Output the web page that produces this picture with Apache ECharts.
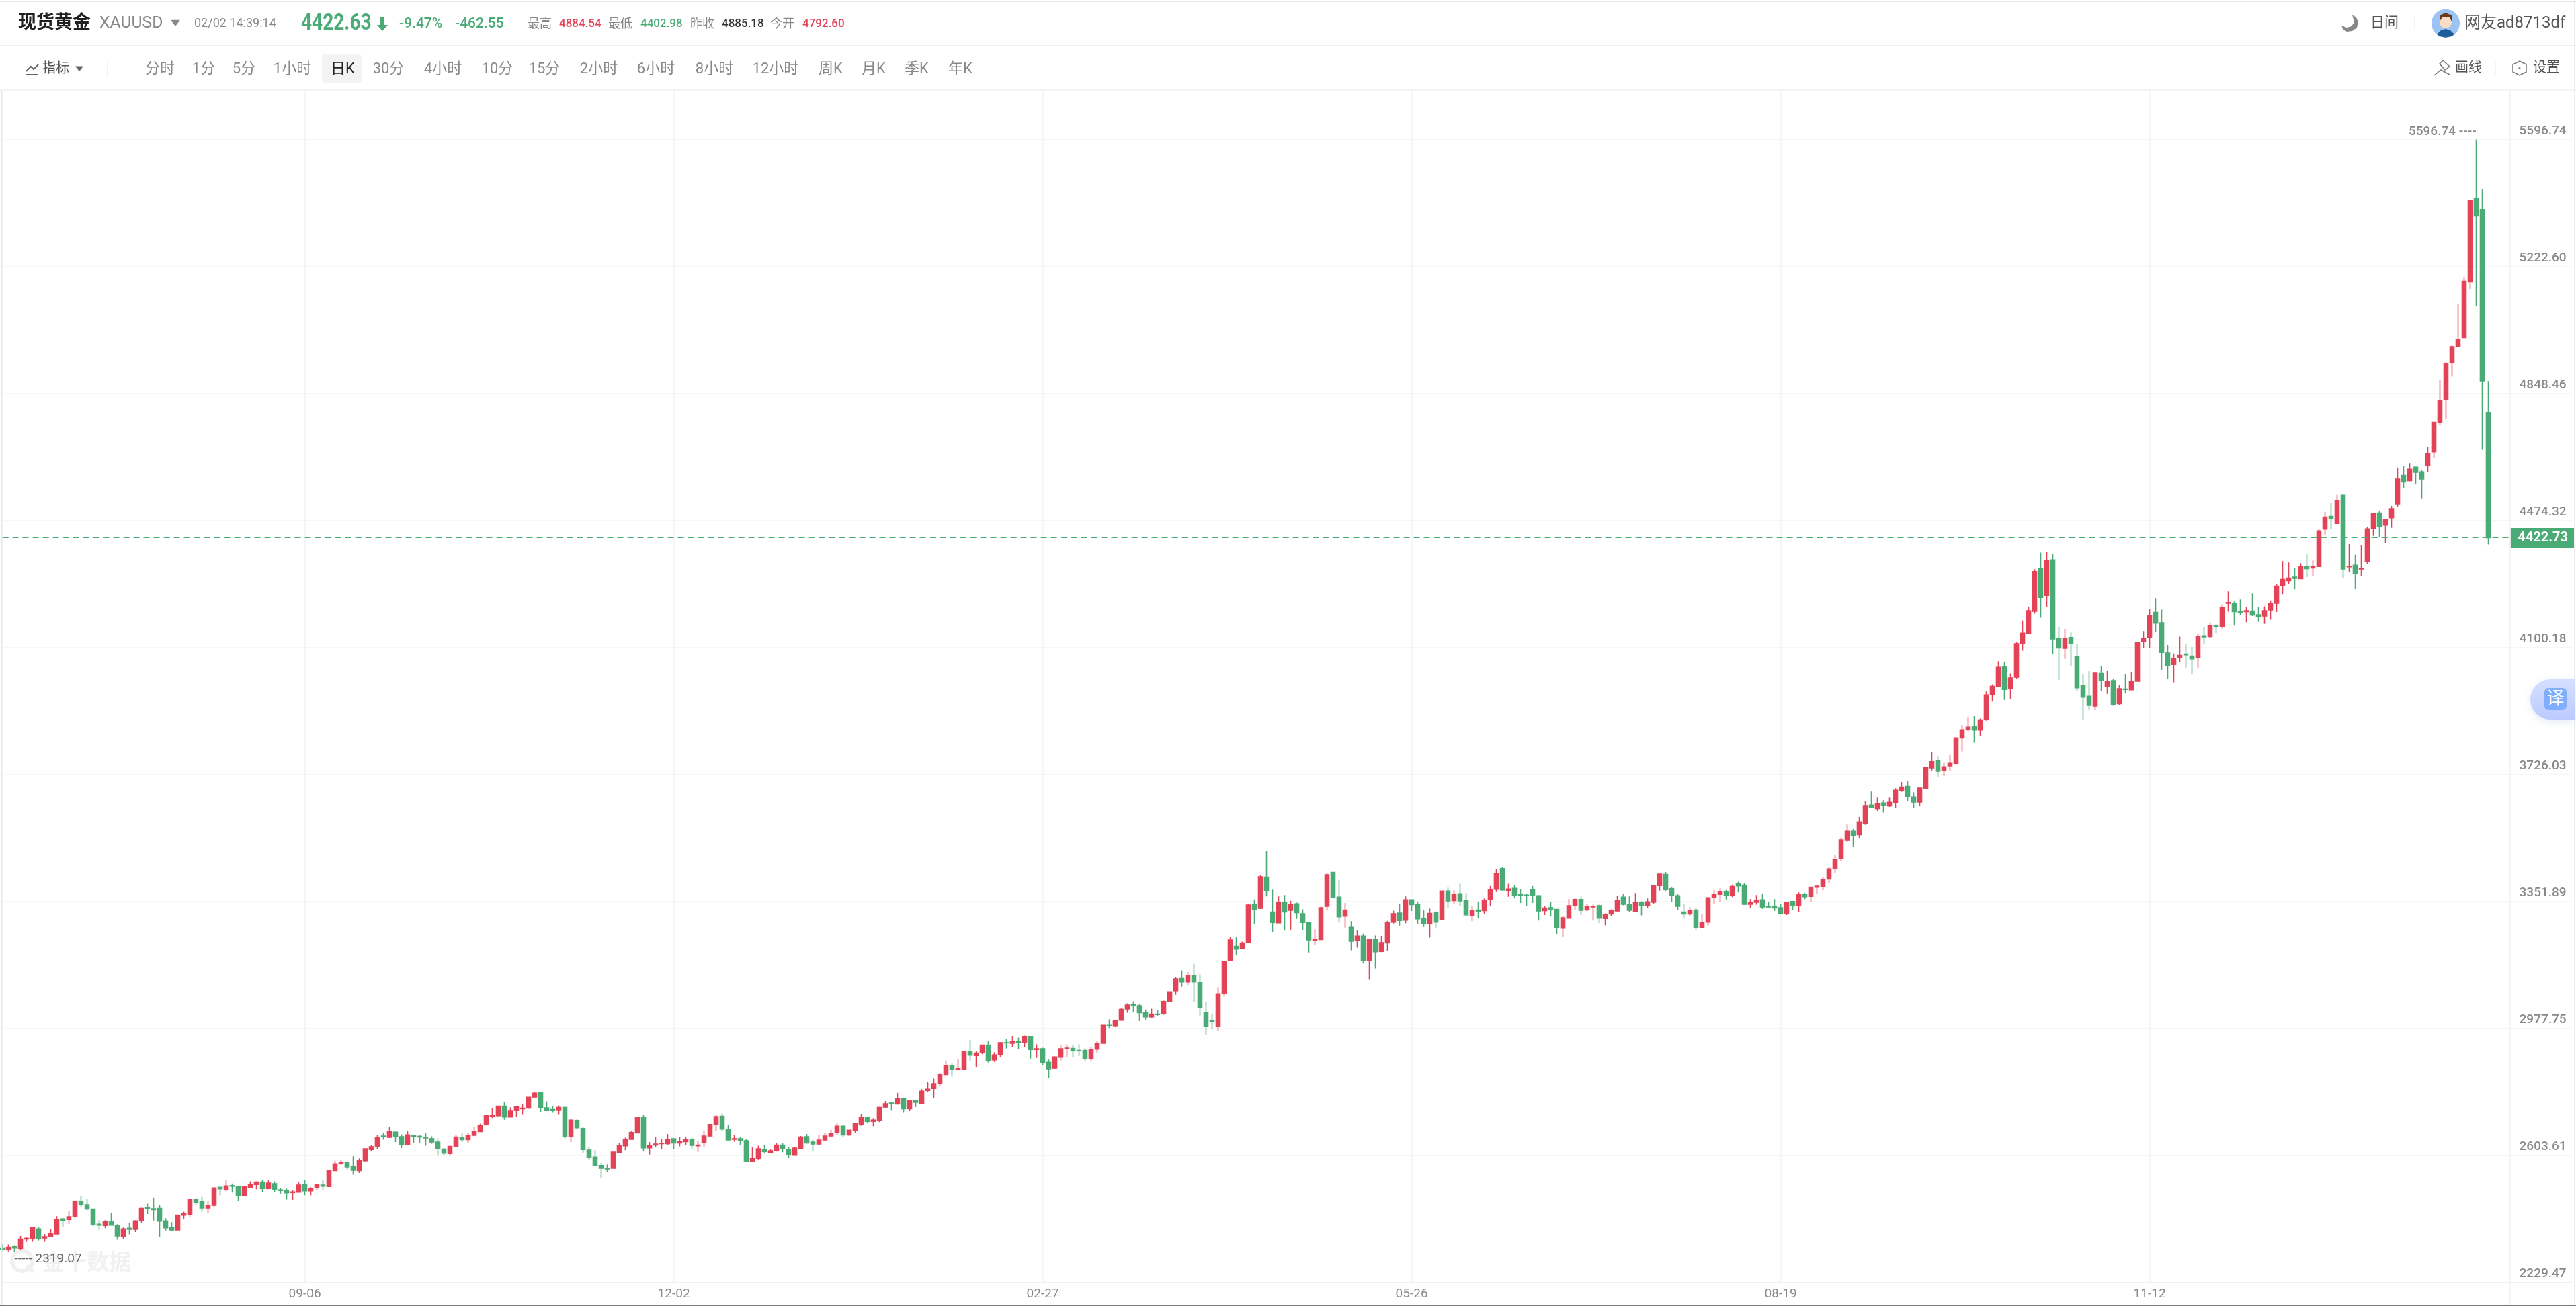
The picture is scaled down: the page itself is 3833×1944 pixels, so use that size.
<!DOCTYPE html>
<html><head><meta charset="utf-8"><title>现货黄金 XAUUSD</title>
<style>html,body{margin:0;padding:0;background:#fff}#c{width:3833px;height:1944px}</style>
<script src="https://cdn.jsdelivr.net/npm/echarts@6/dist/echarts.min.js"></script></head>
<body><div id="c"></div>
<script>
const opens=[2330,2326,2334,2329,2356,2357,2386,2359,2364,2371,2416,2414,2422,2468,2458,2445,2400,2396,2408,2397,
2364,2388,2385,2411,2449,2446,2447,2410,2390,2383,2427,2430,2473,2466,2448,2456,2509,2502,2514,2512,
2484,2507,2517,2524,2505,2519,2501,2499,2493,2494,2517,2498,2507,2515,2511,2558,2580,2581,2569,2558,
2587,2620,2630,2660,2656,2671,2658,2634,2662,2659,2655,2652,2642,2621,2608,2629,2655,2649,2662,2673,
2693,2719,2720,2748,2716,2736,2740,2742,2775,
2787,2743,2738,2737,2744,2659,2706,2682,2618,2598,2573,2565,2565,2612,2631,2650,2669,2715,2625,2633,
2637,2637,2652,2639,2643,2650,2631,2641,2660,2694,2718,2680,2650,2652,2646,2585,2594,2620,2612,2616,
2633,2620,2605,2624,2658,2642,2636,2648,2660,2670,2689,2663,2677,2695,2715,2703,2707,2745,2757,2754,
2770,2740,2763,2755,2794,2800,2814,2841,2866,2856,2856,2908,2897,2905,2928,2884,2899,2935,2933,2938,
2935,2953,2915,2917,2877,2860,2892,2918,2918,
2912,2912,2889,2916,2933,2988,2985,3001,3034,3048,3044,3023,3011,3019,3021,3056,3088,3124,3114,3133,
3113,3023,2999,2984,3081,3177,3219,3212,3230,3343,3331,3423,3320,3288,3349,3325,3344,3315,3289,3237,
3239,3337,3437,3364,3308,3275,3237,3249,3177,3240,3204,3229,3290,3317,3296,3356,3342,3300,3287,3319,
3298,3382,3354,3374,3354,3310,3326,3324,3357,3387,3448,3384,3390,3371,3370,3386,3368,3324,3333,3328,
3272,3302,3339,3357,3326,3335,3339,3301,3314,
3323,3364,3343,3321,3347,3339,3349,3398,3431,3389,3368,3320,3314,3326,3275,3290,3363,3372,3380,3370,
3404,3399,3343,3349,3356,3337,3337,3333,3316,3351,3339,3371,3366,3393,3394,3417,3448,3478,3531,3558,
3548,3582,3635,3625,3641,3633,3642,3679,3690,3659,3644,3685,
3745,3766,3737,3751,3758,3833,3859,3868,3856,3888,3960,3984,4043,3980,4012,4111,4142,4206,4332,4253,
4358,4125,4097,4129,4072,3987,3956,3927,4023,3985,4002,3934,3977,3975,4000,4117,4130,4203,4172,4083,
4049,4069,4080,4074,4069,4134,4132,4165,
4160,4230,4229,4206,4205,4207,4196,4192,4210,4230,4282,4296,4307,4302,4338,4334,4338,4448,4486,4465,
4548,4337,4342,4331,4354,4450,4496,4460,4482,4523,4607,4591,4631,4617,
4636,4676,4763,4829,4938,4987,5013,5177,5424,5390,4792.6];
const closes=[2326,2332,2330,2356,2358,2391,2358,2363,2371,2414,2412,2422,2468,2458,2445,2400,2397,2409,2397,2365,
2386,2385,2410,2447,2447,2443,2409,2389,2383,2427,2431,2472,2465,2448,2456,2507,2504,2513,2512,2484,
2512,2517,2524,2505,2521,2503,2499,2492,2495,2515,2498,2506,2516,2512,2558,2578,2583,2569,2559,2587,
2622,2628,2656,2658,2672,2658,2635,2663,2658,2657,2654,2642,2622,2609,2629,2657,2649,2662,2673,2691,
2721,2721,2748,2716,2735,2746,2742,2774,2786,
2744,2736,2736,2744,2659,2707,2684,2620,2598,2573,2565,2563,2612,2632,2650,2670,2715,2625,2632,2636,
2638,2650,2639,2643,2650,2632,2633,2660,2694,2717,2680,2648,2652,2646,2586,2594,2622,2614,2616,2633,
2622,2606,2624,2657,2639,2636,2648,2660,2668,2689,2663,2677,2696,2714,2703,2707,2744,2755,2755,2771,
2740,2763,2759,2792,2798,2814,2842,2867,2857,2860,2908,2898,2904,2928,2883,2899,2935,2934,2938,2936,
2953,2915,2917,2877,2858,2893,2917,2919,2911,
2911,2887,2915,2933,2988,2986,3001,3033,3046,3045,3023,3011,3019,3018,3056,3085,3123,3114,3133,3114,
3038,2983,2998,3079,3175,3238,3211,3229,3341,3328,3424,3382,3289,3349,3320,3343,3318,3289,3238,3240,
3333,3430,3364,3306,3326,3234,3249,3178,3240,3203,3230,3289,3315,3295,3356,3342,3300,3287,3316,3290,
3382,3353,3373,3353,3312,3325,3322,3355,3385,3433,3385,3388,3368,3370,3368,3368,3323,3332,3328,3274,
3303,3339,3357,3325,3337,3337,3302,3313,3324,
3354,3343,3325,3347,3339,3350,3397,3432,3386,3368,3337,3314,3325,3275,3290,3362,3373,3380,3368,3395,
3397,3343,3347,3355,3335,3335,3332,3315,3348,3339,3371,3365,3393,3396,3416,3447,3475,3533,3558,3545,
3586,3634,3628,3639,3634,3643,3679,3688,3660,3644,3685,3746,
3763,3735,3748,3760,3833,3857,3865,3856,3886,3960,3985,4041,3976,4010,4111,4142,4208,4323,4247,4355,
4125,4098,4125,4112,3981,3953,3929,4024,4003,4000,3932,3978,3976,4000,4115,4125,4194,4171,4085,4046,
4066,4076,4078,4066,4133,4131,4163,4160,
4218,4232,4205,4202,4208,4195,4191,4208,4228,4280,4300,4304,4303,4338,4332,4338,4443,4484,4480,4531,
4331,4338,4318,4332,4449,4494,4456,4476,4509,4596,4587,4625,4616,4596,
4670,4763,4828,4936,4986,5008,5179,5417,5371,4885.18,4422.73];
const lows=[2321,2320,2319.07,2325,2350,2350,2352,2350,2363,2370,2391,2401,2420,2452,2441,2394,2383,2388,2396,2354,
2355,2370,2377,2403,2430,2411,2363,2381,2379,2381,2416,2423,2458,2437,2432,2451,2485,2497,2493,2470,
2484,2507,2503,2494,2503,2494,2490,2473,2472,2493,2485,2485,2500,2500,2510,2557,2575,2561,2546,2551,
2584,2614,2622,2649,2654,2642,2624,2632,2640,2639,2631,2637,2604,2604,2604,2627,2642,2638,2659,2672,
2691,2713,2718,2708,2715,2717,2724,2740,2771,
2731,2733,2730,2724,2652,2642,2680,2610,2589,2573,2536,2554,2565,2610,2618,2649,2668,2616,2605,2627,
2621,2634,2621,2629,2633,2623,2613,2627,2658,2675,2675,2647,2643,2633,2583,2583,2589,2608,2610,2614,
2612,2596,2604,2622,2637,2614,2633,2645,2655,2664,2656,2660,2668,2690,2699,2689,2701,2741,2736,2753,
2730,2734,2745,2755,2790,2771,2807,2840,2835,2853,2856,2882,2864,2901,2876,2878,2892,2918,2923,2916,
2921,2888,2890,2868,2832,2858,2882,2893,2891,
2896,2879,2879,2906,2933,2978,2981,2999,3023,3025,2999,3003,3007,3012,3017,3054,3076,3100,3105,3054,
3015,2957,2975,2970,3071,3176,3193,3211,3230,3284,3329,3366,3260,3287,3265,3268,3300,3266,3201,3223,
3238,3324,3360,3289,3274,3207,3215,3168,3120,3154,3202,3205,3286,3280,3287,3323,3285,3276,3245,3271,
3296,3333,3343,3339,3307,3293,3301,3314,3337,3379,3383,3365,3362,3347,3339,3347,3295,3311,3309,3255,
3247,3300,3327,3311,3323,3295,3287,3281,3309,
3321,3340,3320,3319,3310,3331,3345,3383,3381,3351,3325,3301,3308,3268,3273,3281,3345,3349,3357,3364,
3378,3341,3331,3342,3329,3331,3323,3315,3311,3325,3321,3358,3351,3373,3384,3404,3436,3469,3525,3511,
3539,3577,3626,3618,3613,3630,3626,3674,3646,3628,3632,3683,
3737,3717,3721,3735,3757,3793,3853,3819,3838,3884,3940,3983,3945,3947,4006,4090,4140,4199,4187,4218,
4081,4004,4066,4044,3971,3886,3915,3915,3972,3963,3928,3930,3964,3975,3999,4097,4098,4145,4032,4006,
3997,4055,4038,4022,4040,4109,4129,4142,
4154,4205,4164,4195,4174,4192,4175,4169,4181,4204,4257,4285,4271,4301,4307,4309,4337,4430,4447,4465,
4303,4323,4273,4309,4345,4428,4424,4407,4452,4513,4569,4589,4581,4537,
4617,4659,4756,4772,4898,4986,5012,5156,5106,4682,4402.98];
const highs=[2340,2340,2338,2365,2363,2392,2391,2371,2386,2424,2419,2440,2469,2484,2475,2445,2412,2412,2432,2400,
2390,2403,2412,2449,2461,2478,2458,2418,2406,2428,2437,2473,2477,2480,2469,2509,2510,2531,2520,2513,
2513,2526,2526,2529,2529,2526,2507,2505,2500,2523,2529,2509,2519,2529,2559,2587,2589,2586,2600,2594,
2623,2634,2663,2670,2686,2673,2665,2674,2664,2662,2670,2659,2653,2624,2631,2662,2667,2668,2686,2696,
2723,2741,2749,2759,2744,2748,2753,2775,2790,
2790,2762,2749,2750,2749,2709,2711,2686,2627,2618,2581,2576,2614,2639,2655,2674,2715,2721,2642,2658,
2650,2666,2652,2656,2657,2655,2645,2676,2695,2721,2726,2693,2663,2658,2651,2626,2631,2633,2622,2639,
2638,2627,2627,2660,2666,2649,2663,2670,2678,2697,2693,2678,2697,2725,2717,2713,2746,2763,2759,2787,
2773,2765,2767,2798,2818,2829,2846,2882,2873,2887,2911,2943,2909,2929,2940,2907,2937,2947,2955,2950,
2956,2954,2930,2920,2885,2895,2928,2930,2927,
2930,2918,2922,2941,2988,3004,3002,3037,3051,3057,3048,3033,3035,3031,3059,3086,3128,3148,3143,3167,
3136,3055,3021,3099,3176,3246,3246,3233,3343,3357,3430,3499,3386,3366,3370,3353,3348,3328,3289,3269,
3336,3435,3437,3414,3347,3293,3266,3256,3240,3251,3250,3294,3324,3345,3366,3357,3351,3325,3330,3322,
3382,3392,3384,3403,3376,3338,3349,3360,3397,3447,3452,3403,3399,3388,3374,3397,3370,3337,3350,3328,
3308,3358,3360,3365,3344,3342,3345,3316,3328,
3368,3374,3366,3376,3352,3360,3401,3433,3438,3393,3373,3345,3334,3333,3315,3364,3385,3390,3385,3401,
3409,3405,3358,3370,3374,3349,3358,3345,3351,3353,3378,3376,3393,3399,3423,3453,3489,3540,3578,3564,
3600,3646,3675,3657,3649,3657,3685,3703,3707,3673,3685,3748,
3791,3779,3761,3783,3833,3871,3895,3897,3890,3970,3991,4059,4057,4023,4116,4179,4218,4330,4379,4381,
4375,4161,4154,4144,4109,4020,4030,4027,4045,4030,4006,3990,4020,4028,4117,4148,4212,4245,4211,4107,
4082,4132,4110,4101,4140,4160,4173,4168,
4227,4265,4235,4241,4220,4259,4219,4221,4238,4285,4354,4350,4334,4348,4374,4356,4449,4499,4526,4549,
4550,4404,4373,4402,4455,4497,4501,4479,4517,4630,4634,4643,4633,4622,
4691,4765,4889,4940,4990,5111,5190,5417,5596.74,5451,4884.54];
const yTicks=[2229.47,2603.61,2977.75,3351.89,3726.03,4100.18,4474.32,4848.46,5222.60,5596.74];
const xTickLabels={50:'09-06',111:'12-02',172:'02-27',233:'05-26',294:'08-19',355:'11-12'};
const lastPrice=4422.73, highPrice=5596.74, lowPrice=2319.07, highIndex=409, lowIndex=2;
const tabNames=['分时','1分','5分','1小时','日K','30分','4小时','10分','15分','2小时','6小时','8小时','12小时','周K','月K','季K','年K'];
const tabCenters=[238,303,363,435,510,578,659,740,810,891,976,1063,1154,1236,1300,1364,1429];
const categories=Array.from({length:426},(_,i)=>xTickLabels[i]||String(i));

const RED='#E44357',GREEN='#4AAB76',GRAY='#888888',CJK="Roboto,'Noto Sans CJK SC'";
const T=(x,y,text,size,fill,opt={})=>({type:'text',silent:true,z:opt.z||20,scaleX:opt.sx||1,originX:x,style:{x,y,text,fontSize:size,fill,fontFamily:CJK,fontWeight:opt.w||400,align:opt.a||'left',verticalAlign:'middle'}});
const L=(x1,y1,x2,y2,c,w=1.5)=>({type:'line',silent:true,z:15,shape:{x1,y1,x2,y2},style:{stroke:c,lineWidth:w,fill:null}});
const R=(x,y,w,h,c,r=0)=>({type:'rect',silent:true,z:15,shape:{x,y,width:w,height:h,r},style:{fill:c}});
const Tri=(cx,cy,s,c)=>({type:'polygon',silent:true,z:20,shape:{points:[[cx-s,cy-s*0.6],[cx+s,cy-s*0.6],[cx,cy+s*0.7]]},style:{fill:c}});
const P=(points,fill,z=20,smooth=0)=>({type:'polygon',silent:true,z,shape:{points,smooth},style:{fill}});

const graphics=[
 L(0,2,3833,2,'#e6e6e6',2),L(0,68,3833,68,'#eeeeee',2),R(0,133,3833,3,'#f4f4f4'),
 L(2.5,135,2.5,1944,'#e8e8e8',2),L(3735,135,3735,1944,'#f0f0f0',1.5),L(3831,0,3831,1944,'#eeeeee',2),
 R(0,1942,3833,2,'#7a7a7a'),
 T(27,35,'现货黄金',27,'#1f1f1f',{w:700}),T(148,35,'XAUUSD',24,GRAY,{sx:1.03}),Tri(261,34,7,GRAY),
 T(289,35,'02/02 14:39:14',18,GRAY),
 T(448,36,'4422.63',33,GREEN,{w:700,sx:0.85}),
 P([[566,26],[572,26],[572,37],[577,37],[569,46],[561,37],[566,37]],GREEN),
 T(594,36,'-9.47%',21,GREEN,{w:500}),T(677,36,'-462.55',21,GREEN,{w:500}),
 T(785,36,'最高',18,GRAY),T(832,36,'4884.54',17,RED,{w:500}),
 T(905,36,'最低',18,GRAY),T(953,36,'4402.98',17,GREEN,{w:500}),
 T(1027,36,'昨收',18,GRAY),T(1074,36,'4885.18',17,'#333333',{w:500}),
 T(1146,36,'今开',18,GRAY),T(1194,36,'4792.60',17,RED,{w:500}),
 {type:'polyline',silent:true,z:20,shape:{points:[[39,106],[46,99],[50,103],[57,96]]},style:{stroke:'#666',lineWidth:2,fill:null}},
 L(39,111,57,111,'#666',2),
 T(63,103,'指标',20,'#555555'),Tri(118,102,6,'#666666'),L(160,92,160,114,'#eeeeee',1.5),
 R(479,81,59,42,'#f3f3f3',4),
 ...tabNames.map((n,i)=>T(tabCenters[i],103,n,22,n==='日K'?'#222222':GRAY,{a:'center'})),
 // moon
 P([[3484,38],[3492,41],[3499,39],[3503,33],[3500,22],[3506,26],[3509,33],[3507,41],[3500,46],[3492,47],[3486,43]],'#888888'),
 T(3527,35,'日间',21,'#555555'),L(3593,24,3593,45,'#eeeeee',1.5),
 {type:'circle',silent:true,z:20,shape:{cx:3639,cy:34.7,r:21},style:{fill:'#9BC4F5'}},
 P([[3626,51],[3632,45],[3639,43],[3646,45],[3652,51],[3648,54],[3639,55.7],[3630,54]],'#1C5E9A',21),
 {type:'circle',silent:true,z:21,shape:{cx:3639,cy:33,r:9},style:{fill:'#FBDCC6'}},
 P([[3630,32],[3630,23],[3639,19],[3648,23],[3648,32],[3645,26],[3634,26]],'#6B3A1E',22),
 T(3667,35,'网友ad8713df',24,'#555555'),
 // draw-line icon
 {type:'polyline',silent:true,z:20,shape:{points:[[3622,112],[3632,104],[3645,111]]},style:{stroke:'#777',lineWidth:1.5,fill:null}},
 {type:'polygon',silent:true,z:20,shape:{points:[[3630,95],[3635,90],[3645,99],[3638,104]]},style:{stroke:'#777',lineWidth:1.5,fill:'#fff'}},
 T(3653,102,'画线',20,'#555555'),L(3713,92,3713,112,'#eeeeee',1.5),
 {type:'polygon',silent:true,z:20,shape:{points:[[3749,91],[3759,96],[3759,107],[3749,112],[3739,107],[3739,96]]},style:{stroke:'#777',lineWidth:1.5,fill:'#fff'}},
 {type:'circle',silent:true,z:21,shape:{cx:3749,cy:101.5,r:1.5},style:{fill:'#777'}},
 T(3769,102,'设置',20,'#555555'),
 // translate button
 {type:'rect',silent:true,z:30,shape:{x:3765,y:1011,width:66,height:60,r:[30,0,0,30]},style:{fill:{type:'linear',x:0,y:0,x2:0,y2:1,colorStops:[{offset:0,color:'#D6DFFF'},{offset:1,color:'#BBCBFF'}]},shadowBlur:12,shadowColor:'rgba(150,170,230,0.25)',shadowOffsetY:3}},
 {type:'rect',silent:true,z:31,shape:{x:3786,y:1024,width:33,height:33,r:6},style:{fill:'#7FAEFF'}},
 T(3802.5,1041,'译',26,'#ffffff',{a:'center',z:32}),
 // watermark
 {type:'circle',silent:true,z:-1,shape:{cx:33,cy:1877,r:15},style:{fill:'none',stroke:'#f0f0f0',lineWidth:6}},
 {type:'line',silent:true,z:-1,shape:{x1:40,y1:1884,x2:50,y2:1893},style:{stroke:'#f0f0f0',lineWidth:6}},
 {type:'text',silent:true,z:-1,style:{x:63,y:1877,text:'金十数据',fontSize:33,fontWeight:700,fill:'#f1f1f1',fontFamily:"'Noto Sans CJK SC'",verticalAlign:'middle'}}
];

const chart=echarts.init(document.getElementById('c'),null,{renderer:'canvas',width:3833,height:1944});
const kData=opens.map((o,i)=>[o,closes[i],lows[i],highs[i]]);
chart.setOption({
 animation:false,backgroundColor:'#ffffff',
 grid:{left:3.6,width:3825,top:135,bottom:35.6,containLabel:false},
 xAxis:{type:'category',data:categories,boundaryGap:false,
  axisLine:{show:true,lineStyle:{color:'#f0f0f0',width:1.5}},axisTick:{show:false},
  axisLabel:{interval:i=>!!xTickLabels[i],color:GRAY,fontSize:19,fontFamily:'Roboto',margin:8,formatter:v=>v},
  splitLine:{show:true,interval:i=>!!xTickLabels[i],lineStyle:{color:'#f3f3f3',width:1.5}}},
 yAxis:{type:'value',position:'right',scale:true,min:yTicks[0],max:5740.25,
  axisLine:{show:false},
  axisTick:{show:false,customValues:yTicks},
  axisLabel:{inside:true,customValues:yTicks,color:GRAY,fontSize:19,fontFamily:'Roboto',fontWeight:500,margin:10,
    align:'right',verticalAlign:'bottom',lineHeight:19,padding:[0,0,3,0],formatter:v=>v.toFixed(2),showMinLabel:true,showMaxLabel:true},
  splitLine:{show:true,lineStyle:{color:'#f3f3f3',width:1.5}}},
 series:[{type:'candlestick',data:kData,barWidth:6,clip:true,
  itemStyle:{color:RED,color0:GREEN,borderColor:RED,borderColor0:GREEN,borderWidth:1.6},
  markLine:{silent:true,symbol:'none',animation:false,
    lineStyle:{color:GREEN,type:[9,6],width:1},label:{show:false},
    data:[[{coord:[0,lastPrice]},{coord:[415,lastPrice]}]]},
  markPoint:{silent:true,animation:false,
    data:[
     {coord:[highIndex,highPrice],symbol:'circle',symbolSize:0,itemStyle:{color:'transparent'},
      label:{show:true,position:'left',distance:0,offset:[0,-11],formatter:highPrice.toFixed(2)+' ----',color:GRAY,fontSize:19,fontFamily:'Roboto',fontWeight:500}},
     {coord:[lowIndex,lowPrice],symbol:'circle',symbolSize:0,itemStyle:{color:'transparent'},
      label:{show:true,position:'right',distance:0,offset:[0,11],formatter:'----- '+lowPrice.toFixed(2),color:'#666666',fontSize:19,fontFamily:'Roboto'}},
     {coord:[420,lastPrice],symbol:'rect',symbolSize:[96,29],itemStyle:{color:GREEN},
      label:{show:true,position:'inside',formatter:lastPrice.toFixed(2),color:'#ffffff',fontSize:20,fontFamily:'Roboto',fontWeight:700}}
    ]}
 }],
 graphic:graphics
});
</script></body></html>
